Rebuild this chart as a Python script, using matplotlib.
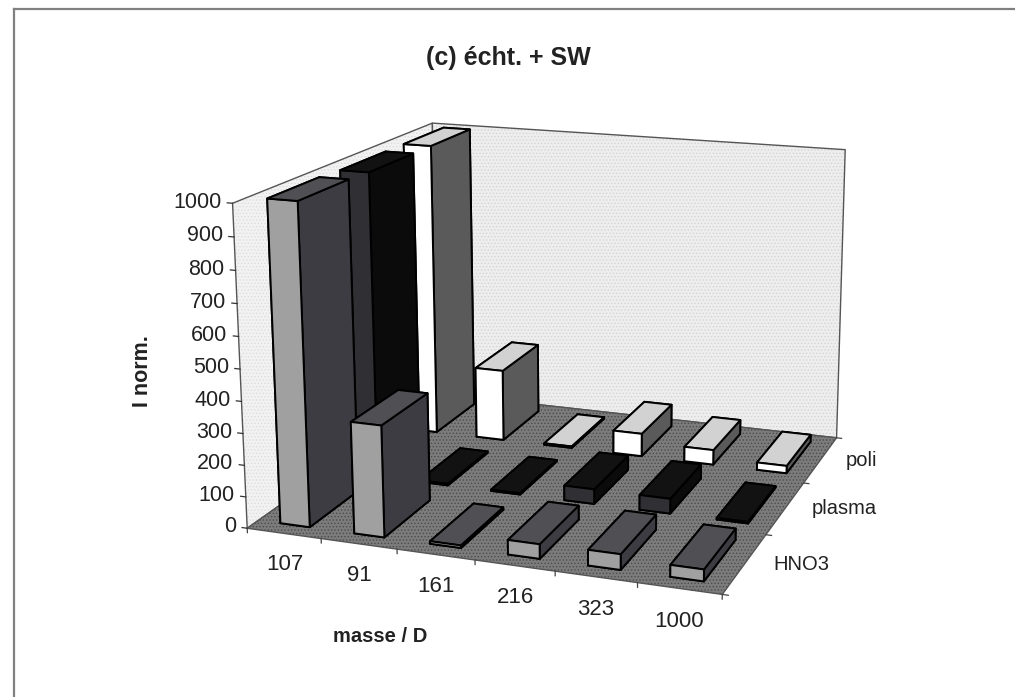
import numpy as np
import matplotlib
matplotlib.use('Agg')
import matplotlib.pyplot as plt
from matplotlib.lines import Line2D
from mpl_toolkits.mplot3d import proj3d
from mpl_toolkits.mplot3d.art3d import Poly3DCollection

plt.rcParams['font.family'] = ['Liberation Sans', 'DejaVu Sans']
plt.rcParams['hatch.linewidth'] = 0.6

masses = ['107', '91', '161', '216', '323', '1000']
rows = ['HNO3', 'plasma', 'poli']
hno3 = [1005, 350, 8, 45, 48, 36]
plasma = [1000, 5, 4, 48, 48, 5]
poli = [1000, 245, 5, 78, 50, 25]
z_ticks = [0, 100, 200, 300, 400, 500, 600, 700, 800, 900, 1000]

# front, top, side of each series
colors = {'HNO3': ('#a0a0a0', '#505054', '#3c3c42'),
          'plasma': ('#303034', '#121212', '#0b0b0b'),
          'poli': ('#ffffff', '#d2d2d2', '#5a5a5a')}
row_values = {'HNO3': hno3, 'plasma': plasma, 'poli': poli}

W, H = 1015, 697
fig = plt.figure(figsize=(W / 100, H / 100), dpi=100)
ax = fig.add_axes([190 / W, 0, H / W, 1], projection='3d', computed_zorder=False)
ax.set_proj_type('ortho')
ax.set_axis_off()
ax.apply_aspect()

# camera: solved from where the box corners sit in the picture (pixels)
nx, ny, zmax = len(masses), len(rows), 1000
box = [(0, 0, 0), (nx, 0, 0), (nx, ny, 0), (0, ny, 0),
       (0, 0, zmax), (0, ny, zmax), (nx, ny, zmax)]
px = [(248, 528), (722, 595), (837, 437), (437, 394),
      (232, 203), (433, 123), (845, 150)]
uv = ax.transData.inverted().transform([(a, H - b) for a, b in px])
A = []
for (x, y, z), (u, v) in zip(box, uv):
    A.append([x, y, z, 1, 0, 0, 0, 0, -u * x, -u * y, -u * z, -u])
    A.append([0, 0, 0, 0, x, y, z, 1, -v * x, -v * y, -v * z, -v])
P = np.linalg.svd(np.array(A))[2][-1].reshape(3, 4)
P = P / P[2, 3]
depth = np.array([-0.03, 0.33, -0.0003, 1.0])
M = np.vstack([P[0], P[1], depth, P[2]])
ax.get_proj = lambda: M


def label(x, y, z, s, **kw):
    # plain 2D text at the projected spot of a 3D point
    u, v, _ = proj3d.proj_transform(x, y, z, M)
    ax.text2D(u, v, s, transform=ax.transData, color='#222222', zorder=6, **kw)


def wall(verts, face, dots, z):
    ax.add_collection3d(Poly3DCollection([verts], facecolors=face, edgecolors=dots, hatch='.....',
                                         linewidths=0, zorder=z))
    xs, ys, zs = zip(*(verts + verts[:1]))
    ax.plot(xs, ys, zs, color='#555555', lw=1.0, zorder=z)


wall([(0, 0, 0), (0, ny, 0), (0, ny, zmax), (0, 0, zmax)], '#f2f2f2', '#dcdcdc', 1)
wall([(0, ny, 0), (nx, ny, 0), (nx, ny, zmax), (0, ny, zmax)], '#eeeeee', '#d4d4d4', 1)
wall([(0, 0, 0), (nx, 0, 0), (nx, ny, 0), (0, ny, 0)], '#7c7c7c', '#4c4c4c', 2)

# ticks
for t in z_ticks:
    ax.plot([0, -0.07], [0, 0], [t, t], color='#333333', lw=0.9, zorder=3)
    label(-0.15, 0, t, str(t), ha='right', va='center', fontsize=15.5)
for i in range(nx + 1):
    ax.plot([i, i], [0, 0], [0, -14], color='#444444', lw=0.9, zorder=3)
for j in range(ny + 1):
    ax.plot([nx, nx + 0.07], [j, j], [0, 0], color='#444444', lw=0.9, zorder=3)

for i, m in enumerate(masses):
    label(i + 0.5, 0, -100, m, ha='center', va='center', fontsize=16)
for j, r in enumerate(rows):
    label(nx + 0.34, j + 0.5, 8, r, ha='left', va='center', fontsize=14.5)

# bars, back row first and left to right
order = 10
for j in [2, 1, 0]:
    name = rows[j]
    front, top, side = colors[name]
    for i, val in enumerate(row_values[name]):
        # bar3d face order: bottom, top, front, back, left, right
        faces = [front, top, front, front, side, side]
        ax.bar3d(i + 0.3, j + 0.15, 0, 0.4, 0.7, val, color=faces, edgecolor='black',
                 linewidth=1.4, shade=False, zorder=order)
        order += 1

fig.text(508 / W, 1 - 58 / H, '(c) écht. + SW', ha='center', va='center', fontsize=18, fontweight='bold', color='#222222')
fig.text(142 / W, 1 - 371 / H, 'I norm.', rotation=90, ha='center', va='center', fontsize=15.5, fontweight='bold', color='#222222')
fig.text(380 / W, 1 - 636 / H, 'masse / D', ha='center', va='center', fontsize=14.5, fontweight='bold', color='#222222')

# scanned page frame, only top and left show
fig.add_artist(Line2D([14 / W, 1], [1 - 9 / H, 1 - 9 / H], color='#808080', lw=1.6))
fig.add_artist(Line2D([14 / W, 14 / W], [0, 1 - 9 / H], color='#808080', lw=1.6))

fig.savefig('out.png', dpi=100)
